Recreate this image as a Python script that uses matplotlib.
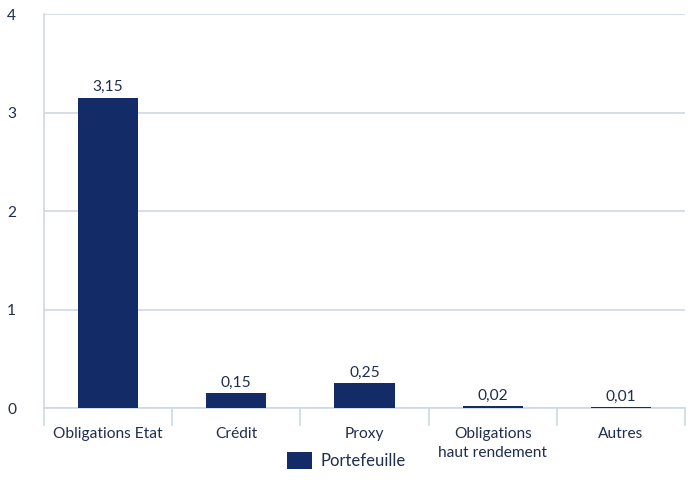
import matplotlib
matplotlib.use("Agg")
import matplotlib.pyplot as plt
import numpy as np

categories = ["Obligations Etat", "Crédit", "Proxy", "Obligations\nhaut rendement", "Autres"]
values = [3.15, 0.15, 0.25, 0.02, 0.01]
yticks = [0, 1, 2, 3, 4]
series_name = "Portefeuille"

bar_color = "#132b66"
text_color = "#1f2d4f"
grid_color = "#cdd8e8"

plt.rcParams['font.family'] = ['Lato', 'DejaVu Sans']

fig = plt.figure(figsize=(6.93, 4.97), dpi=100)
ax = fig.add_axes([0.0635, 0.179, 0.925, 0.7928])

x = np.arange(len(categories))
bars = ax.bar(x, values, width=0.47, color=bar_color, label=series_name, zorder=3)

for xi, v in zip(x, values):
    ax.text(xi, v + 0.035, f"{v:.2f}".replace(".", ","), ha="center", va="bottom",
            fontsize=11.2, color=text_color)

ax.set_xlim(-0.5, len(categories) - 0.5)
ax.set_ylim(0, 4)
ax.set_yticks(yticks)
ax.set_yticklabels([str(t) for t in yticks], fontsize=11.2, color=text_color)
ax.tick_params(axis='y', length=0, pad=20)

ax.set_xticks(x)
ax.set_xticklabels(categories, fontsize=11.2, color=text_color, linespacing=1.45)
ax.tick_params(axis='x', which='major', length=0, pad=14)
ax.set_xticks(np.arange(-0.5, len(categories)), minor=True)
ax.tick_params(axis='x', which='minor', length=13, width=1.2, color=grid_color)

ax.grid(axis='y', color=grid_color, linewidth=1.2, zorder=0)
for s in ['top', 'right']:
    ax.spines[s].set_visible(False)
for s in ['left', 'bottom']:
    ax.spines[s].set_color(grid_color)
    ax.spines[s].set_linewidth(1.2)

fig.legend(handles=[bars], labels=[series_name], loc='center', bbox_to_anchor=(0.5, 0.074),
           frameon=False, fontsize=12, handlelength=1.5, handleheight=1.2, labelcolor=text_color,
           handletextpad=0.55)

fig.savefig("out.png", dpi=100)
